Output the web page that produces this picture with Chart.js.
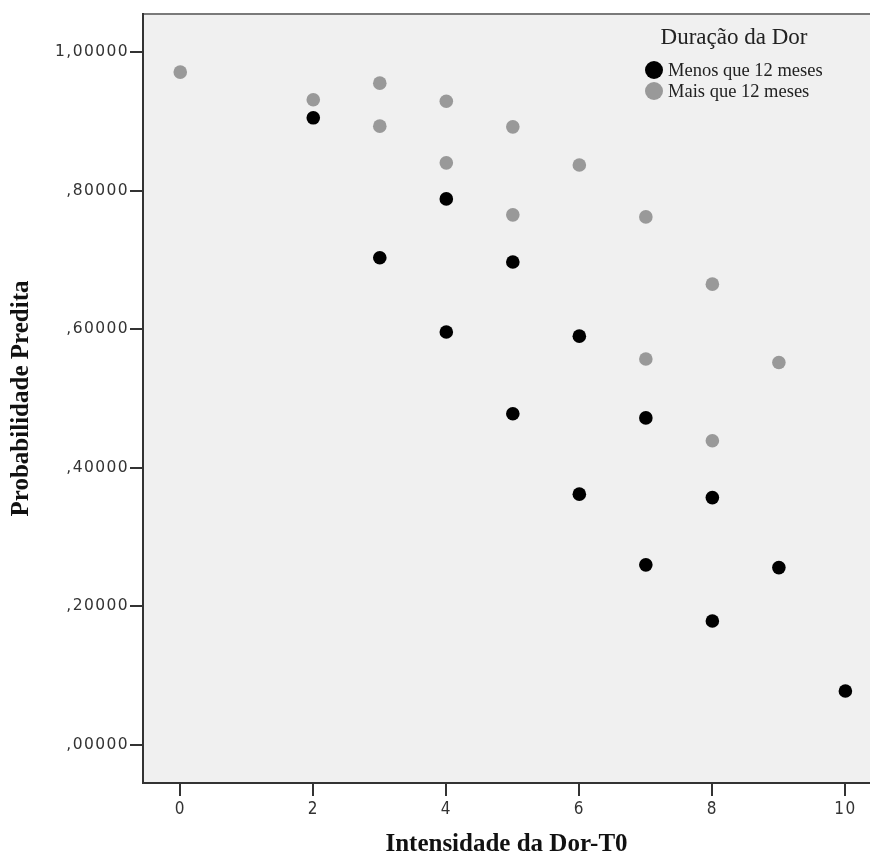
<!DOCTYPE html>
<html>
<head>
<meta charset="utf-8">
<script src="https://cdn.jsdelivr.net/npm/chart.js@4.4.1/dist/chart.umd.min.js"></script>
<style>
  html, body { margin: 0; padding: 0; background: #ffffff; overflow: hidden; }
  #wrap { width: 870px; height: 855px; }
  canvas { display: block; }
</style>
</head>
<body>
<div id="wrap"><canvas id="c" width="870" height="855"></canvas></div>
<script>
// Intensidade da dor (T0) e probabilidade predita, por duração da dor
const seriesNames = ['Menos que 12 meses', 'Mais que 12 meses'];
const legendTitle = 'Duração da Dor';
const xTitle = 'Intensidade da Dor-T0';
const yTitle = 'Probabilidade Predita';

const menosX = [2, 3, 4, 4, 5, 5, 6, 6, 7, 7, 8, 8, 9, 10];
const menosY = [0.905, 0.703, 0.788, 0.596, 0.697, 0.478, 0.590, 0.362, 0.472, 0.260, 0.357, 0.179, 0.256, 0.078];

const maisX = [0, 2, 3, 3, 4, 4, 5, 5, 6, 7, 7, 8, 8, 9];
const maisY = [0.971, 0.931, 0.955, 0.893, 0.929, 0.840, 0.892, 0.765, 0.837, 0.762, 0.557, 0.665, 0.439, 0.552];

const xTicks = [0, 2, 4, 6, 8, 10];
const yTicks = [0, 0.2, 0.4, 0.6, 0.8, 1.0];

const toPoints = (xs, ys) => xs.map((x, i) => ({ x: x, y: ys[i] }));

// comma decimals, no leading zero: ,80000 / 1,00000
const fmtY = v => {
  const s = Number(v).toFixed(5).replace('.', ',');
  return s.startsWith('0,') ? s.slice(1) : s;
};

// plot background, top frame line, and tracking for the tick labels
const plotFrame = {
  id: 'plotFrame',
  beforeDraw(chart) {
    const { ctx, chartArea: a } = chart;
    ctx.save();
    ctx.fillStyle = '#f0f0f0';
    ctx.fillRect(a.left, a.top, a.right - a.left, a.bottom - a.top);
    ctx.strokeStyle = '#7a7a7a';
    ctx.lineWidth = 2;
    ctx.beginPath();
    ctx.moveTo(a.left, a.top);
    ctx.lineTo(a.right, a.top);
    ctx.stroke();
    ctx.restore();
    ctx.letterSpacing = '1.4px';
  },
  afterDatasetsDraw(chart) {
    chart.ctx.letterSpacing = '0px';
  }
};

// axis titles and the group legend
const annotations = {
  id: 'annotations',
  afterDraw(chart) {
    const { ctx, chartArea: a } = chart;
    ctx.save();
    ctx.letterSpacing = '0px';
    ctx.fillStyle = '#111';
    ctx.textAlign = 'center';
    ctx.textBaseline = 'middle';
    ctx.font = 'bold 25px "Liberation Serif", serif';
    ctx.fillText(xTitle, (a.left + a.right) / 2, 845);
    ctx.save();
    ctx.translate(22, (a.top + a.bottom) / 2);
    ctx.rotate(-Math.PI / 2);
    ctx.fillText(yTitle, 0, 0);
    ctx.restore();

    ctx.fillStyle = '#222';
    ctx.font = '23px "Liberation Serif", serif';
    ctx.fillText(legendTitle, 734, 38);
    ctx.textAlign = 'left';
    ctx.font = '18.5px "Liberation Serif", serif';
    chart.data.datasets.forEach((ds, i) => {
      const cy = 70 + i * 21;
      ctx.fillStyle = ds.backgroundColor;
      ctx.beginPath();
      ctx.arc(654, cy, 9, 0, Math.PI * 2);
      ctx.fill();
      ctx.fillStyle = '#222';
      ctx.fillText(ds.label, 668, cy + 1);
    });
    ctx.restore();
  }
};

const yTickFont = { family: '"DejaVu Sans", sans-serif', size: 15.5 };
const xTickFont = { family: '"DejaVu Sans Condensed", "DejaVu Sans", sans-serif', size: 17 };

new Chart(document.getElementById('c'), {
  type: 'scatter',
  data: {
    datasets: [
      {
        label: seriesNames[0],
        data: toPoints(menosX, menosY),
        backgroundColor: '#000000',
        borderColor: '#000000',
        pointRadius: 6.8,
        pointBorderWidth: 0
      },
      {
        label: seriesNames[1],
        data: toPoints(maisX, maisY),
        backgroundColor: '#999999',
        borderColor: '#999999',
        pointRadius: 6.8,
        pointBorderWidth: 0
      }
    ]
  },
  options: {
    responsive: false,
    animation: false,
    events: [],
    layout: { autoPadding: false, padding: { top: 14, right: 0, bottom: 0, left: 0 } },
    plugins: { legend: { display: false }, tooltip: { enabled: false } },
    scales: {
      x: {
        type: 'linear',
        min: -0.56,
        max: 10.37,
        afterBuildTicks: s => { s.ticks = xTicks.map(v => ({ value: v })); },
        afterFit: s => { s.height = 72; s.paddingLeft = 0; s.paddingRight = 0; },
        ticks: { font: xTickFont, color: '#333', padding: 3, maxRotation: 0, autoSkip: false },
        grid: { drawOnChartArea: false, drawTicks: true, tickLength: 13, color: '#333', lineWidth: 2 },
        border: { display: true, color: '#333', width: 2 },
        title: { display: false }
      },
      y: {
        type: 'linear',
        min: -0.0548,
        max: 1.0548,
        afterBuildTicks: s => { s.ticks = yTicks.map(v => ({ value: v })); },
        afterFit: s => { s.width = 143; s.paddingTop = 0; s.paddingBottom = 0; },
        ticks: { font: yTickFont, color: '#333', padding: 1, callback: v => fmtY(v), autoSkip: false },
        grid: { drawOnChartArea: false, drawTicks: true, tickLength: 13, color: '#333', lineWidth: 2 },
        border: { display: true, color: '#333', width: 2 },
        title: { display: false }
      }
    }
  },
  plugins: [plotFrame, annotations]
});
</script>
</body>
</html>
